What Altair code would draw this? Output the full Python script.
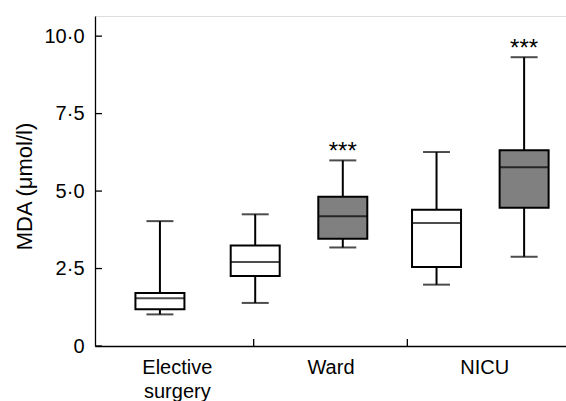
import altair as alt
import pandas as pd

# ---- data ----
groups = ["Elective surgery", "Ward", "NICU"]
group_mid = [0.5, 1.5, 2.5]          # label positions (group units)
group_bounds = [1, 2]                # separator ticks on the x axis
box_pos = [0.39, 1.01, 1.58, 2.19, 2.76]
box_fill = ["white", "white", "#808080", "white", "#808080"]
lower = [1.02, 1.39, 3.18, 1.98, 2.88]
q1 = [1.19, 2.26, 3.46, 2.55, 4.46]
median = [1.54, 2.71, 4.19, 3.97, 5.77]
q3 = [1.71, 3.24, 4.82, 4.40, 6.32]
upper = [4.03, 4.25, 5.99, 6.26, 9.32]
stars = ["", "", "***", "", "***"]
y_ticks = [0, 2.5, 5, 7.5, 10]

FONT = "Liberation Sans"
YTITLE = "MDA (μmol/l)"

df = pd.DataFrame({
    "pos": box_pos, "fill": box_fill, "lower": lower, "q1": q1,
    "median": median, "q3": q3, "upper": upper, "star": stars,
})


def lab(g):
    w = g.split(" ")
    if len(w) > 1:
        return "[" + ",".join(f"'{x}'" for x in w) + "]"
    return f"'{g}'"


x_expr = " : ".join(
    f"datum.value == {m} ? {lab(g)}" for m, g in zip(group_mid[:-1], groups[:-1])
) + " : " + lab(groups[-1])

xs = alt.Scale(domain=[0, 3], nice=False, zero=False)
ys = alt.Scale(domain=[0, 10.65], nice=False, zero=True)

xaxis = alt.Axis(values=group_mid, labelExpr=x_expr, ticks=False, grid=False,
                 domainColor="black", domainWidth=1.3, labelFont=FONT,
                 labelFontSize=20, labelColor="black", labelPadding=11,
                 labelLineHeight=24, labelBaseline="top")
yaxis = alt.Axis(values=y_ticks,
                 labelExpr="datum.value == 0 ? '0' : replace(format(datum.value, '.1f'), '.', '·')",
                 ticks=False, grid=False, domainColor="black", domainWidth=1.3,
                 labelFont=FONT, labelFontSize=20, labelColor="black", labelPadding=11,
                 titleFont=FONT, titleFontSize=22, titleFontWeight="normal",
                 titleColor="black", titleX=-71, titleY=170,
                 titleBaseline="middle", titleAlign="center", titleAngle=270)

X = alt.X("pos:Q", scale=xs, axis=xaxis, title="")


def Y(f):
    return alt.Y(f"{f}:Q", scale=ys, axis=yaxis, title=YTITLE)


base = alt.Chart(df)

whisk = base.mark_rule(color="black", strokeWidth=2).encode(
    x=X, y=Y("lower"), y2="upper")
box = base.mark_bar(width=49, stroke="black", strokeWidth=2).encode(
    x=X, y=Y("q1"), y2="q3", fill=alt.Fill("fill:N", scale=None))
med = base.mark_tick(orient="horizontal", size=49, thickness=2, color="black").encode(
    x=X, y=Y("median"))
cap_lo = base.mark_tick(orient="horizontal", size=27, thickness=2, color="black").encode(
    x=X, y=Y("lower"))
cap_hi = base.mark_tick(orient="horizontal", size=27, thickness=2, color="black").encode(
    x=X, y=Y("upper"))
star = base.mark_text(font=FONT, fontSize=24, baseline="alphabetic", dy=-1,
                      color="black").encode(x=X, y=Y("upper"), text="star:N")

ytick = alt.Chart(pd.DataFrame({"t": y_ticks})).mark_rule(
    color="black", strokeWidth=1.3).encode(
    y=Y("t"), x=alt.value(0), x2=alt.value(7))
xtick = alt.Chart(pd.DataFrame({"b": group_bounds})).mark_rule(
    color="black", strokeWidth=1.3).encode(
    x=alt.X("b:Q", scale=xs, axis=xaxis, title=""), y=alt.value(330), y2=alt.value(323))

chart = alt.layer(whisk, box, med, cap_lo, cap_hi, star, ytick, xtick).properties(
    width=471, height=330,
    autosize=alt.AutoSizeParams(type="none"),
    padding={"left": 95, "top": 16, "right": 0, "bottom": 55},
).configure_view(stroke=None).configure(background="white")

chart.save("out.html", embed_options={"renderer": "svg", "actions": False})
